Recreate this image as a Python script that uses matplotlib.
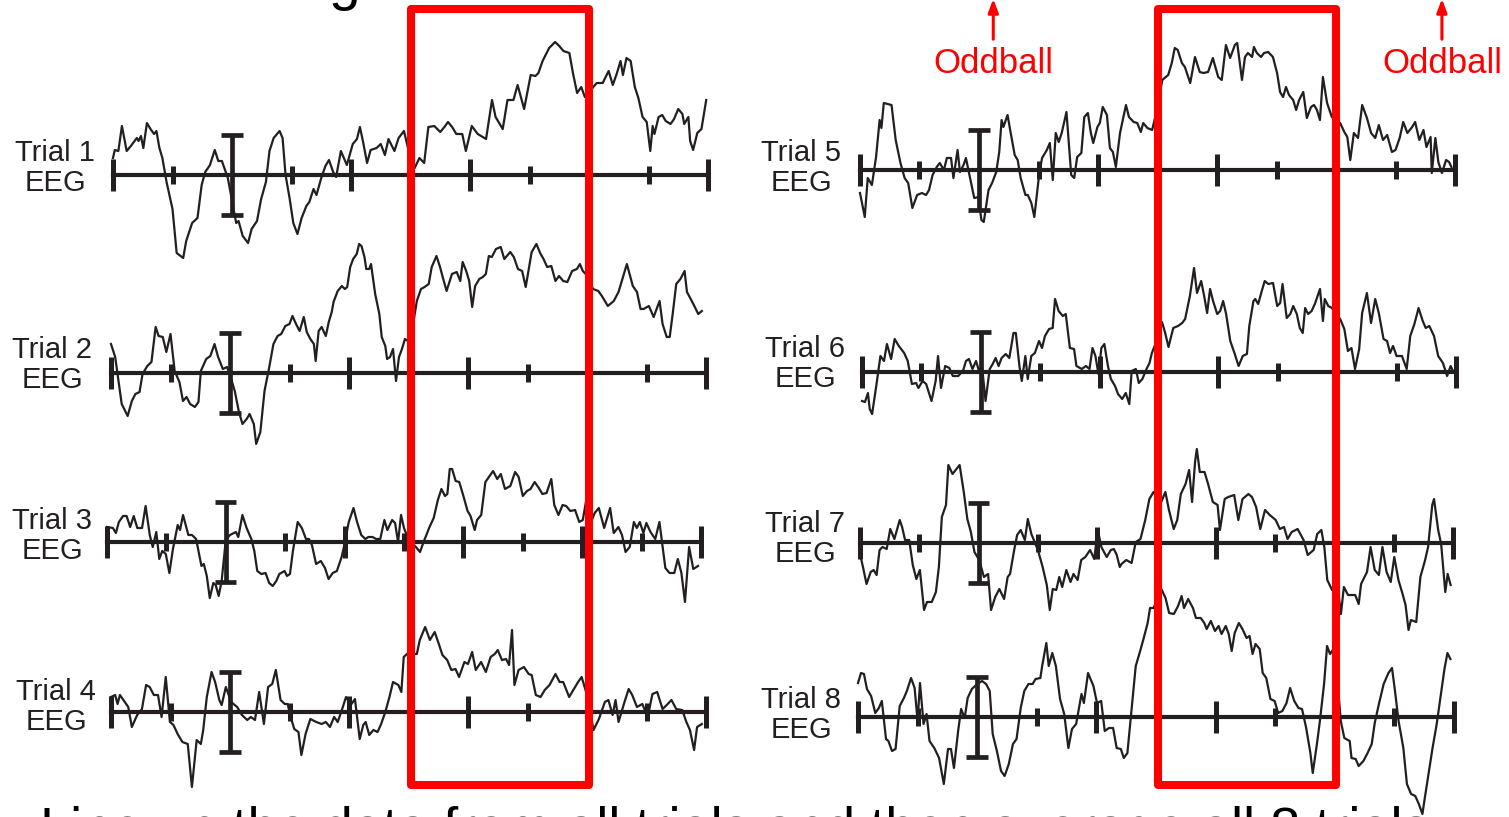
import matplotlib
matplotlib.use('Agg')
import matplotlib.pyplot as plt
from matplotlib import font_manager
from matplotlib.patches import Rectangle

# ---- EEG single-trial data: time (ms) and amplitude (uV) ----
t1 = [-200, -197, -191, -185, -177, -170, -160, -157, -153, -149,
      -143, -137, -131, -127, -122, -117, -110, -100, -93, -82,
      -77, -67, -58, -51, -45, -37, -29, -23, -17, -7,
      7, 11, 18, 27, 33, 42, 49, 57, 63, 70,
      80, 85, 90, 97, 103, 110, 117, 125, 130, 137,
      142, 150, 157, 163, 170, 175, 183, 193, 203, 210,
      215, 220, 227, 233, 243, 250, 257, 263, 273, 280,
      289, 297, 307, 315, 323, 330, 340, 350, 357, 363,
      370, 377, 387, 393, 403, 413, 427, 437, 443, 455,
      463, 473, 480, 491, 502, 510, 515, 522, 533, 543,
      550, 557, 567, 573, 580, 587, 593, 603, 613, 623,
      633, 640, 647, 653, 657, 663, 670, 677, 683, 690,
      697, 703, 707, 710, 717, 723, 729, 737, 743, 750,
      757, 760, 767, 770, 775, 782, 789, 797]
v1 = [17, 25, 24, 49, 24, 29, 37, 34, 39, 27,
      52, 46, 41, 44, 27, 17, -7, -34, -78, -83,
      -66, -48, -43, -10, 3, 10, 25, 14, 14, -3,
      -48, -46, -61, -68, -54, -46, -24, -7, 24, 37,
      44, 37, 0, -24, -48, -59, -43, -31, -27, -14,
      -20, -3, 9, 15, 3, -2, 24, 10, 31, 36,
      48, 34, 12, 25, 27, 31, 20, 36, 24, 37,
      44, 24, 7, 17, 12, 48, 49, 43, 48, 53,
      48, 41, 41, 24, 49, 41, 36, 75, 58, 46,
      75, 75, 90, 66, 100, 99, 102, 114, 127, 133,
      129, 124, 122, 102, 82, 88, 78, 85, 92, 92,
      104, 90, 102, 114, 100, 117, 114, 88, 77, 58,
      53, 24, 49, 41, 58, 60, 54, 51, 56, 66,
      61, 51, 58, 34, 25, 42, 46, 75]

t2 = [-200, -193, -189, -182, -172, -165, -159, -152, -147, -139,
      -132, -125, -120, -113, -107, -100, -93, -85, -79, -73,
      -67, -59, -53, -49, -40, -33, -26, -20, -12, -5,
      1, 8, 15, 21, 28, 33, 40, 44, 51, 58,
      66, 73, 80, 86, 93, 100, 105, 111, 117, 124,
      129, 135, 141, 144, 149, 154, 161, 166, 171, 174,
      181, 188, 193, 197, 202, 207, 213, 217, 221, 226,
      229, 234, 237, 244, 251, 255, 261, 264, 269, 274,
      279, 284, 289, 294, 299, 307, 314, 321, 327, 334,
      339, 347, 353, 357, 364, 373, 381, 387, 391, 397,
      402, 407, 412, 419, 425, 430, 435, 440, 447, 455,
      461, 471, 477, 484, 491, 497, 507, 515, 522, 527,
      533, 540, 547, 553, 560, 567, 575, 583, 588, 593,
      601, 610, 619, 625, 635, 645, 653, 667, 677, 684,
      690, 695, 704, 712, 722, 727, 734, 739, 744, 750,
      757, 764, 768, 777, 787, 793]
v2 = [29, 16, -1, -31, -43, -28, -21, -19, -1, 7,
      11, 46, 37, 36, 21, 39, 2, -9, -28, -24,
      -31, -34, -29, 2, 14, 17, 29, 16, 4, 6,
      -4, -18, -39, -51, -46, -41, -51, -71, -59, -18,
      6, 29, 37, 39, 47, 49, 57, 49, 42, 56,
      41, 34, 29, 12, 42, 46, 37, 51, 61, 71,
      82, 87, 84, 86, 106, 114, 119, 129, 127, 116,
      104, 104, 109, 79, 59, 36, 27, 14, 16, 24,
      -8, 16, 24, 34, 32, 46, 72, 84, 86, 89,
      106, 117, 106, 97, 82, 99, 101, 92, 111, 102,
      92, 66, 87, 94, 96, 99, 117, 116, 124, 126,
      114, 121, 116, 104, 102, 86, 121, 129, 119, 114,
      106, 107, 92, 97, 92, 91, 102, 104, 109, 102,
      97, 84, 82, 77, 67, 72, 81, 109, 87, 81,
      64, 64, 67, 56, 72, 49, 36, 36, 59, 89,
      94, 102, 81, 71, 59, 62]

t3 = [-200, -190, -185, -180, -173, -167, -161, -155, -149, -141,
      -135, -128, -123, -117, -112, -107, -101, -95, -89, -81,
      -77, -72, -63, -57, -50, -45, -41, -37, -32, -27,
      -21, -17, -12, -7, 0, 7, 17, 21, 28, 35,
      43, 48, 53, 60, 67, 73, 79, 85, 90, 99,
      103, 108, 113, 121, 128, 135, 140, 145, 152, 160,
      167, 173, 180, 187, 195, 200, 207, 215, 221, 228,
      235, 240, 247, 253, 260, 267, 272, 280, 285, 290,
      295, 300, 307, 320, 327, 333, 343, 350, 357, 363,
      369, 373, 377, 381, 387, 393, 400, 407, 412, 419,
      423, 430, 437, 443, 450, 457, 463, 470, 479, 487,
      493, 500, 507, 513, 520, 527, 533, 540, 548, 553,
      560, 567, 573, 580, 588, 595, 601, 608, 615, 621,
      628, 637, 647, 653, 661, 667, 673, 680, 687, 692,
      697, 703, 708, 715, 723, 730, 740, 747, 755, 761,
      767, 773, 780, 787, 795]
v3 = [15, 14, 9, 20, 26, 26, 15, 26, 14, 14,
      36, 7, -5, 10, -17, -9, -12, -31, -7, 17,
      12, 27, 7, 7, 3, -12, -24, -22, -34, -56,
      -41, -43, -54, -39, 2, 7, 10, 5, 27, 14,
      3, -9, -29, -32, -31, -41, -44, -39, -32, -29,
      -34, -32, -9, 20, 14, 3, 3, -3, -22, -19,
      -26, -37, -31, -29, -15, -2, 20, 34, 20, 7,
      3, 5, 5, 3, 3, 22, 12, 22, 19, 0,
      27, 14, 3, -5, -10, 0, 15, 24, 42, 53,
      46, 48, 73, 73, 61, 60, 46, 31, 26, 12,
      22, 27, 60, 65, 71, 63, 68, 53, 56, 70,
      65, 46, 51, 53, 60, 54, 48, 49, 63, 37,
      27, 37, 36, 31, 32, 20, 22, 46, 20, 29,
      34, 14, 34, 9, 15, 7, -10, -5, 20, 14,
      20, 9, 19, 10, 3, 20, -26, -31, -31, -17,
      -31, -60, -5, -27, -24]

t4 = [-200, -193, -189, -185, -178, -171, -165, -156, -148, -141,
      -135, -128, -121, -115, -108, -101, -95, -88, -80, -71,
      -64, -56, -49, -45, -39, -31, -25, -18, -14, -7,
      2, 12, 20, 29, 35, 42, 49, 57, 64, 71,
      77, 85, 92, 97, 101, 108, 115, 120, 127, 135,
      145, 154, 161, 168, 175, 181, 188, 195, 203, 210,
      218, 224, 228, 234, 241, 248, 254, 261, 268, 274,
      283, 288, 292, 301, 308, 314, 319, 328, 336, 344,
      351, 357, 365, 372, 379, 385, 394, 400, 407, 413,
      422, 430, 438, 445, 450, 457, 464, 469, 474, 478,
      485, 494, 502, 507, 514, 522, 529, 537, 547, 554,
      560, 570, 577, 585, 591, 600, 611, 620, 630, 636,
      643, 648, 653, 662, 670, 676, 684, 693, 702, 710,
      718, 727, 734, 742, 750, 760, 767, 773, 780, 785,
      793]
v4 = [15, 17, 8, 17, 11, 5, -15, -3, 3, 27,
      25, 17, 17, -5, 35, -10, -13, -22, -30, -32,
      -75, -28, -32, -18, 15, 40, 30, 12, 7, 25,
      10, 5, -3, -8, -5, -8, 20, -12, 25, 28,
      42, 12, 8, 8, -3, -17, -20, -43, -22, -7,
      -10, -12, -10, -15, -5, -10, 2, 15, 7, 13,
      -27, -13, -10, -23, -18, -20, -12, 0, 15, 30,
      27, 20, 55, 60, 58, 58, 72, 85, 72, 80,
      68, 57, 52, 42, 43, 35, 50, 48, 60, 42,
      50, 40, 55, 58, 62, 52, 53, 47, 82, 27,
      42, 45, 38, 37, 17, 15, 22, 27, 38, 30,
      30, 15, 22, 30, 35, 17, -18, -7, 10, 12,
      -3, 12, -10, 8, 23, 17, 5, 8, -5, 18,
      20, 3, 7, 12, 3, 2, -10, -18, -38, -15,
      -12]

t5 = [-200, -192, -187, -180, -173, -167, -164, -160, -147, -140,
      -132, -125, -119, -112, -104, -96, -89, -84, -78, -71,
      -66, -59, -54, -47, -43, -36, -32, -26, -22, -16,
      -8, -1, 4, 8, 16, 22, 29, 34, 38, 41,
      48, 53, 60, 65, 70, 78, 82, 88, 93, 101,
      106, 114, 119, 124, 129, 134, 139, 147, 155, 160,
      165, 172, 177, 183, 188, 192, 199, 203, 208, 215,
      220, 225, 230, 237, 247, 252, 260, 266, 272, 276,
      283, 291, 299, 308, 318, 324, 329, 334, 341, 346,
      355, 363, 371, 377, 385, 393, 402, 408, 415, 422,
      430, 434, 442, 447, 452, 459, 462, 467, 474, 479,
      486, 494, 501, 506, 511, 516, 521, 528, 533, 538,
      545, 551, 558, 563, 568, 573, 578, 585, 593, 607,
      614, 619, 624, 630, 637, 644, 652, 659, 666, 672,
      679, 686, 694, 700, 707, 713, 720, 728, 733, 740,
      747, 752, 759, 761, 767, 772, 778, 785, 790, 794]
v5 = [-23, -47, -8, -15, 13, 50, 42, 67, 65, 30,
      7, -8, -13, -38, -25, -23, -25, -20, -5, 3,
      7, 0, 12, 12, -8, 20, -2, 5, 12, -5,
      -28, -27, -50, -52, -20, -13, -2, 18, 50, 43,
      55, 38, 15, 10, -8, -25, -25, -33, -47, -5,
      12, 20, 27, -10, 37, 28, 37, 58, -5, -8,
      13, 17, 53, 57, 37, 27, 43, 47, 63, 55,
      22, 18, 3, 37, 65, 53, 48, 47, 38, 47,
      42, 40, 60, 90, 95, 107, 122, 120, 107, 103,
      87, 113, 98, 97, 98, 112, 93, 90, 125, 112,
      125, 127, 90, 113, 117, 113, 123, 117, 113, 117,
      118, 113, 97, 78, 73, 83, 75, 70, 60, 70,
      78, 52, 63, 65, 60, 50, 93, 67, 53, 47,
      38, 33, 10, 37, 32, 65, 52, 37, 32, 45,
      30, 35, 18, 20, 32, 48, 37, 43, 48, 30,
      40, 23, 33, -3, 32, 8, -3, 10, 8, 3]

t6 = [-200, -195, -190, -187, -183, -176, -169, -163, -158, -151,
      -145, -138, -129, -123, -116, -109, -105, -98, -92, -83,
      -76, -72, -67, -60, -53, -47, -38, -30, -25, -20,
      -14, -8, -3, 2, 8, 15, 20, 25, 30, 35,
      42, 48, 55, 59, 65, 69, 75, 79, 85, 91,
      98, 103, 108, 115, 121, 125, 131, 138, 143, 150,
      157, 161, 170, 177, 183, 188, 193, 198, 203, 208,
      214, 219, 226, 231, 238, 244, 250, 254, 261, 266,
      272, 279, 284, 288, 294, 305, 310, 316, 324, 332,
      339, 344, 352, 359, 364, 371, 376, 381, 386, 391,
      398, 403, 408, 413, 420, 427, 434, 441, 448, 452,
      459, 462, 467, 473, 478, 484, 492, 499, 504, 508,
      515, 521, 526, 532, 537, 542, 546, 551, 557, 563,
      571, 576, 579, 585, 591, 605, 612, 618, 624, 630,
      637, 642, 650, 657, 664, 670, 678, 684, 689, 694,
      700, 709, 717, 723, 730, 737, 744, 749, 755, 763,
      770, 778, 785, 791, 795]
v6 = [-29, -30, -21, -37, -42, -14, 16, 11, 28, 13,
      33, 26, 19, 11, -12, -11, -16, -9, -12, -29,
      -9, 16, -16, 6, 4, -4, -4, 1, 11, 13,
      3, 11, 1, 6, -29, 3, 8, 14, 6, 14,
      18, 14, 39, 39, 6, -9, 16, -7, 16, 19,
      31, 24, 36, 43, 44, 73, 61, 56, 58, 24,
      23, 6, 3, 6, 3, 24, 16, -2, 24, 28,
      6, -7, -14, -22, -27, -21, -32, 1, 3, -11,
      -7, 3, 9, 19, 28, 50, 40, 25, 44, 46,
      49, 53, 76, 104, 79, 91, 76, 59, 83, 71,
      58, 61, 71, 58, 31, 19, 6, 16, 18, 46,
      71, 73, 68, 81, 91, 88, 89, 66, 69, 88,
      54, 58, 66, 58, 44, 39, 64, 58, 61, 69,
      83, 51, 73, 66, 64, 53, 43, 21, 24, 3,
      23, 59, 79, 49, 73, 59, 33, 31, 19, 26,
      16, 16, 3, 36, 48, 64, 51, 44, 46, 36,
      16, 9, -4, 6, 1]

t7 = [-200, -195, -189, -182, -177, -172, -167, -162, -155, -149,
      -142, -133, -129, -124, -117, -111, -105, -99, -92, -87,
      -79, -72, -67, -62, -55, -51, -44, -32, -25, -19,
      -13, -7, 1, 9, 16, 21, 28, 35, 43, 49,
      53, 60, 65, 71, 78, 83, 89, 100, 108, 115,
      120, 125, 131, 136, 141, 148, 155, 160, 167, 173,
      180, 188, 195, 201, 207, 216, 223, 228, 233, 238,
      241, 249, 258, 265, 273, 281, 288, 295, 301, 308,
      315, 321, 329, 335, 341, 349, 355, 360, 365, 368,
      373, 381, 387, 395, 403, 407, 415, 421, 431, 438,
      445, 455, 461, 468, 475, 483, 491, 501, 508, 515,
      521, 528, 538, 548, 555, 565, 571, 578, 583, 588,
      596, 605, 611, 616, 623, 635, 641, 645, 655, 661,
      668, 675, 681, 688, 695, 701, 708, 715, 720, 725,
      729, 738, 745, 753, 758, 765, 768, 775, 780, 787,
      791, 796]
v7 = [-11, -24, -41, -29, -27, -32, -7, -4, -6, 14,
      4, 23, 16, 3, 3, -22, -36, -27, -67, -59,
      -59, -49, -24, 26, 38, 78, 69, 78, 51, 24,
      11, -9, -17, -34, -31, -67, -54, -46, -56, -34,
      -31, -7, 8, 13, 3, 24, 9, -7, -24, -42,
      -67, -46, -47, -34, -44, -27, -39, -31, -37, -17,
      -14, -7, -16, 13, -4, -14, -7, -6, -12, -24,
      -21, -17, -20, 1, 4, 23, 44, 51, 46, 41,
      51, 33, 14, 23, 49, 59, 73, 41, 81, 94,
      71, 71, 59, 41, 38, 13, 44, 46, 48, 23,
      44, 49, 46, 36, 14, 33, 28, 23, 14, 16,
      4, 11, 14, 3, -12, -7, 9, 13, -4, -37,
      -47, -41, -71, -44, -52, -52, -61, -41, -29, -4,
      -27, -32, -4, -29, -39, -14, -37, -51, -62, -87,
      -77, -79, -34, -17, -4, 38, 44, 13, -1, -49,
      -31, -42]

t8 = [-200, -195, -190, -185, -178, -171, -165, -160, -153, -149,
      -143, -137, -130, -123, -118, -111, -105, -100, -96, -90,
      -85, -80, -72, -64, -56, -49, -44, -39, -32, -27,
      -21, -16, -9, 0, 8, 15, 21, 26, 33, 40,
      46, 53, 60, 66, 73, 79, 86, 93, 98, 106,
      109, 116, 120, 126, 132, 139, 146, 153, 159, 166,
      175, 179, 186, 195, 201, 208, 214, 221, 228, 234,
      241, 246, 252, 259, 266, 272, 279, 286, 290, 296,
      309, 316, 322, 330, 337, 343, 347, 354, 362, 367,
      375, 381, 385, 392, 399, 405, 410, 417, 422, 427,
      432, 439, 445, 452, 457, 462, 467, 474, 479, 485,
      492, 499, 505, 512, 519, 525, 532, 539, 545, 552,
      559, 563, 570, 575, 582, 587, 592, 600, 610, 616,
      625, 628, 635, 640, 648, 655, 662, 667, 674, 682,
      690, 696, 701, 707, 715, 721, 728, 735, 741, 747,
      751, 758, 764, 771, 778, 784, 789, 794]
v8 = [34, 44, 43, 28, 21, 4, 9, 16, -22, -24,
      -34, -32, 11, 19, 26, 39, 29, -4, 34, -7,
      3, -24, -31, -41, -67, -32, -32, -51, -14, 8,
      -1, 19, 28, 33, 36, 33, 26, -17, -34, -54,
      -59, -47, -27, -22, 9, 26, 33, 33, 38, 39,
      51, 74, 51, 64, 51, 18, 3, -31, -12, -7,
      23, 14, 44, 31, 14, 16, -14, -11, -11, -31,
      -32, -41, -36, 8, 51, 63, 78, 94, 109, 109,
      128, 119, 104, 103, 111, 121, 109, 118, 109, 99,
      99, 94, 88, 96, 86, 91, 83, 91, 83, 66,
      84, 94, 88, 79, 81, 63, 73, 68, 44, 39,
      18, 16, 4, 6, 14, 29, 16, 9, 8, -11,
      -36, -56, -27, -4, 33, 71, 63, 70, -4, -21,
      -24, -41, -42, -49, -44, -36, -27, -6, 13, 33,
      44, 49, 26, -4, -31, -67, -77, -79, -87, -97,
      -81, -54, -31, -7, 23, 48, 64, 58]

trials = [(t1, v1), (t2, v2), (t3, v3), (t4, v4),
          (t5, v5), (t6, v6), (t7, v7), (t8, v8)]
labels = ['Trial 1', 'Trial 2', 'Trial 3', 'Trial 4',
          'Trial 5', 'Trial 6', 'Trial 7', 'Trial 8']
major_ms = [-200, 200, 400, 600, 800]
minor_ms = [-100, 100, 300, 500, 700]
scale_ms = 0
scale_uv = 40
window_ms = (300, 600)
oddball_ms = [24, 778]

# ---- layout, in pixels of the 1509x817 canvas ----
W, H = 1509, 817
axis_x0 = [113, 111, 107, 111, 860, 862, 860, 858]
axis_x1 = [708, 706, 701, 706, 1455, 1456, 1453, 1454]
axis_y = [175, 373, 542, 712, 170, 372, 543, 717]
label_x = [55, 52, 52, 56, 801, 805, 805, 801]
label_y = [153, 350, 521, 692, 153, 349, 524, 700]
columns = [(113, 708), (860, 1455)]

ink = '#231f20'
names = {f.name for f in font_manager.fontManager.ttflist}
if 'Liberation Sans Narrow' in names:
    face, lab_size, odd_size = 'Liberation Sans Narrow', 24, 28
else:
    face, lab_size, odd_size = 'Liberation Sans', 21, 25

fig = plt.figure(figsize=(W / 100, H / 100), dpi=100)


def px_axes(x0, y0, x1, y1):
    ax = fig.add_axes([x0 / W, 1 - y1 / H, (x1 - x0) / W, (y1 - y0) / H])
    ax.axis('off')
    return ax


for i, (t, v) in enumerate(trials):
    ax = px_axes(axis_x0[i], axis_y[i] - 150, axis_x1[i], axis_y[i] + 110)
    ax.set_xlim(-200, 800)
    ax.set_ylim(-110, 150)
    ax.plot(t, v, color=ink, lw=1.6, clip_on=False, zorder=2)
    ax.axhline(0, color=ink, lw=3, clip_on=False, zorder=3)
    ax.vlines(major_ms, -16, 16, color=ink, lw=3.6, clip_on=False, zorder=3)
    ax.vlines(minor_ms, -9, 9, color=ink, lw=3.6, clip_on=False, zorder=3)
    ax.vlines(scale_ms, -scale_uv, scale_uv, color=ink, lw=3.4, clip_on=False, zorder=3)
    ax.hlines([-scale_uv, scale_uv], scale_ms - 18, scale_ms + 18, color=ink, lw=3.4,
              clip_on=False, zorder=3)
    fig.text(label_x[i] / W, 1 - label_y[i] / H, labels[i], ha='center', va='center',
             fontsize=lab_size, family=face, color=ink)
    fig.text(label_x[i] / W, 1 - (label_y[i] + 30) / H, 'EEG', ha='center', va='center',
             fontsize=lab_size, family=face, color=ink)

# red analysis windows spanning all four trials of each column
for j, (x0, x1) in enumerate(columns):
    ov = px_axes(x0, 0, x1, H)
    ov.set_xlim(-200, 800)
    ov.set_ylim(H, 0)
    ov.add_patch(Rectangle((window_ms[0], 9), window_ms[1] - window_ms[0], 776,
                           fill=False, ec='#ff0000', lw=5.8, joinstyle='round',
                           clip_on=False, zorder=5))
    if j == 1:
        for t in oddball_ms:
            ov.annotate('', xy=(t, -4), xytext=(t, 42), annotation_clip=False,
                        arrowprops=dict(arrowstyle='-|>,head_width=0.3,head_length=0.8',
                                        color='#ff0000', lw=2.2))
            ov.text(t, 63, 'Oddball', ha='center', va='center', color='#ff0000',
                    fontsize=odd_size, family=face)

# slide text cut off by the crop (title above, caption below)
fig.text(362 / W, 1 + 1 / H, 'Time-locking', ha='right', va='baseline',
         fontsize=41, family='Liberation Sans', color='black')
fig.text(40 / W, 1 - 806 / H,
         'Line up the data from all trials and then average all 8 trials',
         ha='left', va='top', fontsize=39, family='Liberation Sans', color='black')

fig.savefig('out.png', dpi=100)
